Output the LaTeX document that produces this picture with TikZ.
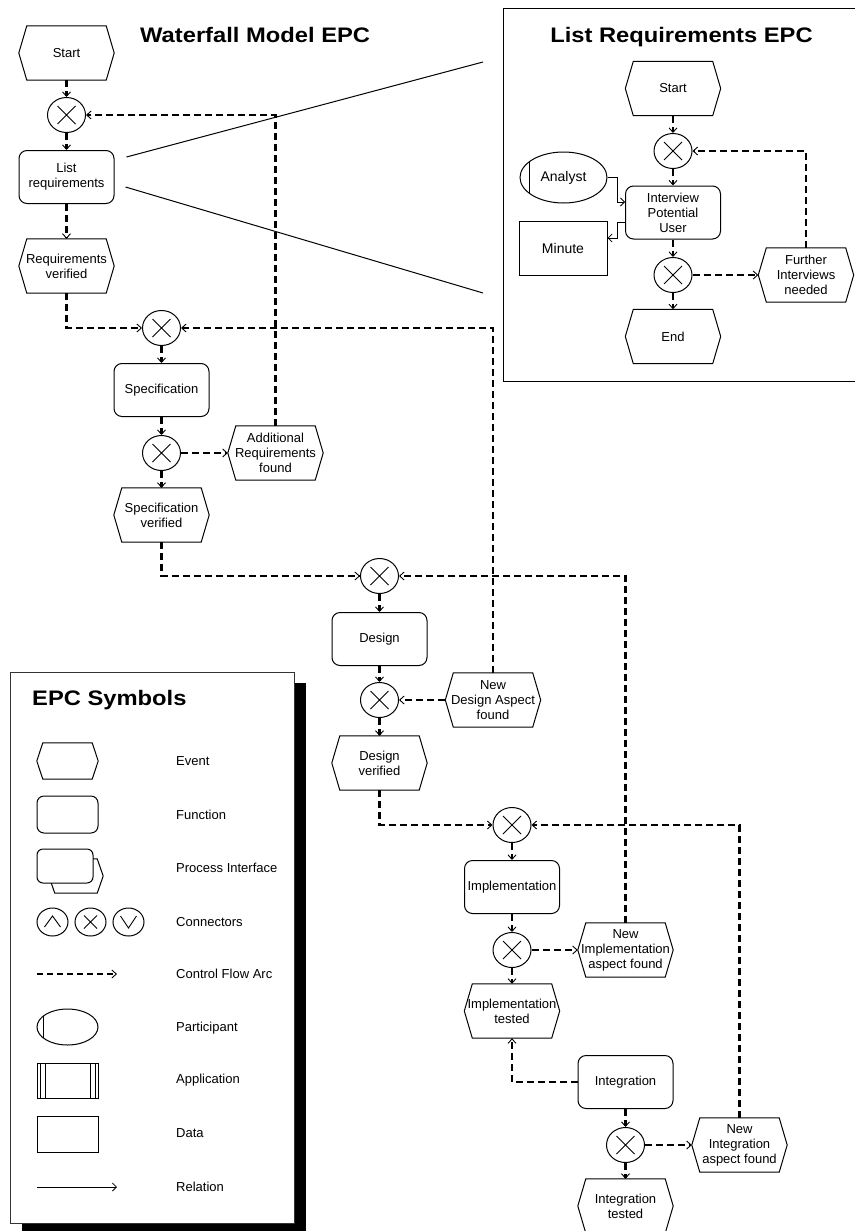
\documentclass[tikz,border=0pt]{standalone}
\usepackage{fontspec}
\setmainfont{Liberation Sans}
\newfontfamily\titlefont{Liberation Sans}[FakeStretch=1.13]
\usetikzlibrary{arrows.meta,shapes.geometric}

% hexagonal EPC event outline around a (borderless) node
\newcommand\hexoutline[2][8pt]{%
  \draw[shapeline] (#2.west) -- ([xshift=#1]#2.north west) -- ([xshift=-#1]#2.north east)
    -- (#2.east) -- ([xshift=-#1]#2.south east) -- ([xshift=#1]#2.south west) -- cycle;}

\begin{document}
\begin{tikzpicture}[x=1pt, y=-1pt,
  shapeline/.style={line width=1pt, line join=miter},
  lbl/.style={font=\fontsize{13pt}{15pt}\selectfont, align=center, inner sep=0pt},
  biglbl/.style={font=\fontsize{14pt}{16pt}\selectfont, align=center, inner sep=0pt},
  titlestyle/.style={font=\titlefont\bfseries\fontsize{21pt}{24pt}\selectfont, inner sep=0pt},
  evt/.style={lbl, minimum width=95pt, minimum height=54pt},
  fn/.style={lbl, draw, line width=1pt, rounded corners=8pt, minimum width=95pt, minimum height=53pt},
  conn/.style={ellipse, draw, line width=1pt, inner sep=0pt},
  xmark/.style={path picture={
    \draw[line width=0.9pt]
      ([shift={(-#1,-#1)}]path picture bounding box.center) -- ([shift={(#1,#1)}]path picture bounding box.center)
      ([shift={(-#1,#1)}]path picture bounding box.center) -- ([shift={(#1,-#1)}]path picture bounding box.center);}},
  xor/.style={conn, minimum width=38pt, minimum height=35pt, xmark=9pt},
  participant/.style={biglbl, ellipse, draw, line width=1pt, path picture={
    \draw[line width=1pt] ([xshift=#1]path picture bounding box.north west) -- ([xshift=#1]path picture bounding box.south west);}},
  datastore/.style={biglbl, draw, line width=1pt},
  flow/.style={line width=2.3pt, dash pattern=on 7pt off 4pt,
    -{Straight Barb[length=4.5pt, width=8pt, line width=0.9pt]}},
  flowthin/.style={line width=1.6pt, dash pattern=on 6pt off 4pt,
    -{Straight Barb[length=4.5pt, width=8pt, line width=0.9pt]}},
  rel/.style={line width=0.8pt, -{Straight Barb[length=4pt, width=8pt]}},
  legendlbl/.style={lbl, anchor=base west},
]
\useasboundingbox (0,0) rectangle (854,1231);
\fill[white] (0,0) rectangle (854,1231);

% ---------------- Waterfall model ----------------
\node[titlestyle, anchor=base west] (T1) at (140,43) {Waterfall Model EPC};

\node[evt] (S0) at (66.5,53) {Start}; \hexoutline{S0}
\node[xor] (C1) at (66.5,115) {};
\node[fn] (LR) at (66.5,177) {List\\requirements};
\node[evt] (RV) at (66.5,266) {Requirements\\verified}; \hexoutline{RV}

\node[xor] (C2) at (161.5,328) {};
\node[fn] (SP) at (161.5,390) {Specification};
\node[xor] (C3) at (161.5,453) {};
\node[evt] (ARF) at (275.5,453) {Additional\\Requirements\\found}; \hexoutline{ARF}
\node[evt] (SV) at (161.5,515) {Specification\\verified}; \hexoutline{SV}

\node[xor] (C4) at (379.5,576) {};
\node[fn] (DE) at (379.5,639) {Design};
\node[xor] (C5) at (379.5,700) {};
\node[evt] (NDA) at (493,700) {New\\Design Aspect\\found}; \hexoutline{NDA}
\node[evt] (DV) at (379.5,763) {Design\\verified}; \hexoutline{DV}

\node[xor] (C6) at (512,825) {};
\node[fn] (IM) at (512,887) {Implementation};
\node[xor] (C7) at (512,950) {};
\node[evt] (NIF) at (625.5,950) {New\\Implementation\\aspect found}; \hexoutline{NIF}
\node[evt] (IT) at (512,1011) {Implementation\\tested}; \hexoutline{IT}

\node[fn] (IG) at (625.5,1082) {Integration};
\node[xor] (C8) at (625.5,1145) {};
\node[evt] (NGF) at (739.5,1145) {New\\Integration\\aspect found}; \hexoutline{NGF}
\node[evt] (GT) at (625.5,1206) {Integration\\tested}; \hexoutline{GT}

% control flow
\draw[flow] (S0.south) -- (C1.north);
\draw[flow] (C1.south) -- (LR.north);
\draw[flow] (LR.south) -- (RV.north);
\draw[flow] (RV.south) |- (C2.west);
\draw[flow] (C2.south) -- (SP.north);
\draw[flow] (SP.south) -- (C3.north);
\draw[flow] (C3.east) -- (ARF.west);
\draw[flow] (ARF.north) |- (C1.east);
\draw[flow] (C3.south) -- (SV.north);
\draw[flow] (SV.south) |- (C4.west);
\draw[flow] (C4.south) -- (DE.north);
\draw[flow] (DE.south) -- (C5.north);
\draw[flow] (NDA.west) -- (C5.east);
\draw[flow] (NDA.north) |- (C2.east);
\draw[flow] (C5.south) -- (DV.north);
\draw[flow] (DV.south) |- (C6.west);
\draw[flow] (C6.south) -- (IM.north);
\draw[flow] (IM.south) -- (C7.north);
\draw[flow] (C7.east) -- (NIF.west);
\draw[flow] (NIF.north) |- (C4.east);
\draw[flow] (C7.south) -- (IT.north);
\draw[flow] (IG.west) -| (IT.south);
\draw[flow] (IG.south) -- (C8.north);
\draw[flow] (C8.east) -- (NGF.west);
\draw[flow] (C8.south) -- (GT.north);
\draw[flow] (NGF.north) |- (C6.east);

% zoom lines towards the refinement of "List requirements"
\coordinate (W1) at (483,62);
\coordinate (W2) at (483,293);
\draw[line width=1pt] ([shift={(12pt,20pt)}]LR.east) -- (W1);
\draw[line width=1pt] ([shift={(11pt,-10pt)}]LR.east) -- (W2);

% ---------------- List requirements refinement ----------------
\draw[line width=1pt] (503,9) rectangle (862,381);
\node[titlestyle, anchor=base] (T2) at (681.5,43) {List Requirements EPC};

\node[evt] (IS) at (673,88.5) {Start}; \hexoutline{IS}
\node[xor] (IC1) at (673,151) {};
\node[fn] (IPU) at (673,212.5) {Interview\\Potential\\User};
\node[participant=9pt, minimum width=87pt, minimum height=51pt] (AN) at (563.5,177.5) {Analyst};
\node[datastore, minimum width=88pt, minimum height=54pt] (MI) at (563,248) {Minute};
\node[xor] (IC2) at (673,275) {};
\node[evt] (FI) at (806,275) {Further\\Interviews\\needed}; \hexoutline{FI}
\node[evt] (IE) at (673,336.5) {End}; \hexoutline{IE}

\draw[flow] (IS.south) -- (IC1.north);
\draw[flow] (IC1.south) -- (IPU.north);
\draw[flow] (IPU.south) -- (IC2.north);
\draw[flow] (IC2.south) -- (IE.north);
\draw[flow] (IC2.east) -- (FI.west);
\draw[flow] (FI.north) |- (IC1.east);
\draw[rel] (AN.east) -- ++(10,0) |- ([yshift=10.5pt]IPU.west);
\draw[rel] ([yshift=-9.5pt]IPU.west) -- ++(-8,0) |- ([yshift=10pt]MI.east);

% ---------------- Legend ----------------
\fill[black] (22,683) rectangle (306,1240);
\draw[line width=0.9pt, draw=black!80, fill=white] (10,672) rectangle (294,1223);
\node[titlestyle, anchor=base west] (T3) at (32,705) {EPC Symbols};

\node[lbl, minimum width=61pt, minimum height=36pt] (lgEv) at (67.5,761) {}; \hexoutline[6pt]{lgEv}
\node[fn, minimum width=61pt, minimum height=37pt, rounded corners=7pt] (lgFn) at (67.5,814.5) {};
\node[lbl, minimum width=54pt, minimum height=34pt] (lgPIb) at (76,876) {}; \hexoutline[6pt]{lgPIb}
\node[fn, fill=white, minimum width=56pt, minimum height=34pt, rounded corners=6pt] (lgPI) at (65,866) {};
\node[conn, minimum width=31pt, minimum height=28pt, path picture={
  \draw[line width=0.9pt] ([shift={(-8pt,-5pt)}]path picture bounding box.center)
    -- ([shift={(0pt,6pt)}]path picture bounding box.center)
    -- ([shift={(8pt,-5pt)}]path picture bounding box.center);}] (lgAnd) at (52.5,922) {};
\node[conn, minimum width=31pt, minimum height=28pt, xmark=6.5pt] (lgXor) at (90.5,922) {};
\node[conn, minimum width=31pt, minimum height=28pt, path picture={
  \draw[line width=0.9pt] ([shift={(-8pt,6pt)}]path picture bounding box.center)
    -- ([shift={(0pt,-6pt)}]path picture bounding box.center)
    -- ([shift={(8pt,6pt)}]path picture bounding box.center);}] (lgOr) at (128.5,922) {};
\coordinate (lgA1) at (37,974);
\coordinate (lgA2) at (117,974);
\draw[flowthin] (lgA1) -- (lgA2);
\node[participant=6pt, minimum width=61pt, minimum height=36pt] (lgPa) at (67.5,1027) {};
\node[draw, line width=1pt, minimum width=61pt, minimum height=35pt, inner sep=0pt, path picture={
  \draw[line width=0.8pt]
    ([xshift=3pt]path picture bounding box.north west) -- ([xshift=3pt]path picture bounding box.south west)
    ([xshift=8pt]path picture bounding box.north west) -- ([xshift=8pt]path picture bounding box.south west)
    ([xshift=-3pt]path picture bounding box.north east) -- ([xshift=-3pt]path picture bounding box.south east)
    ([xshift=-8pt]path picture bounding box.north east) -- ([xshift=-8pt]path picture bounding box.south east);}]
  (lgAp) at (67.5,1080.5) {};
\node[datastore, minimum width=61pt, minimum height=36pt] (lgDa) at (67.5,1134) {};
\coordinate (lgR1) at (37,1187);
\coordinate (lgR2) at (117,1187);
\draw[rel] (lgR1) -- (lgR2);

\node[legendlbl] (tEv) at (176,765.5) {Event};
\node[legendlbl] (tFn) at (176,819.5) {Function};
\node[legendlbl] (tPI) at (176,872.5) {Process Interface};
\node[legendlbl] (tCo) at (176,926.5) {Connectors};
\node[legendlbl] (tCF) at (176,978.5) {Control Flow Arc};
\node[legendlbl] (tPa) at (176,1031.5) {Participant};
\node[legendlbl] (tAp) at (176,1083.5) {Application};
\node[legendlbl] (tDa) at (176,1137.5) {Data};
\node[legendlbl] (tRe) at (176,1191.5) {Relation};
\end{tikzpicture}
\end{document}
